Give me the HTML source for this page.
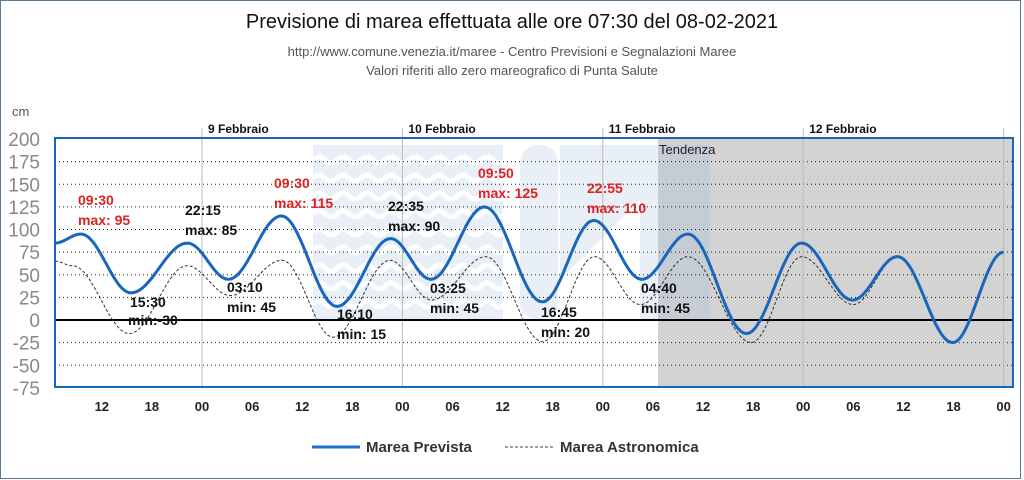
<!DOCTYPE html>
<html><head><meta charset="utf-8"><style>
body{margin:0;background:#fff;}
svg{display:block;font-family:"Liberation Sans","DejaVu Sans",sans-serif;}
</style></head><body>
<svg id="s" width="1024" height="480" xmlns="http://www.w3.org/2000/svg">
<rect x="0.5" y="0.5" width="1020" height="478" fill="#fff" stroke="#5a7896"/>
<text x="512" y="28" text-anchor="middle" font-size="20" fill="#111">Previsione di marea effettuata alle ore 07:30 del 08-02-2021</text>
<text x="512" y="56" text-anchor="middle" font-size="13" fill="#555">http://www.comune.venezia.it/maree - Centro Previsioni e Segnalazioni Maree</text>
<text x="512" y="75" text-anchor="middle" font-size="13" fill="#555">Valori riferiti allo zero mareografico di Punta Salute</text>
<text x="12" y="116" font-size="13" fill="#555">cm</text>
<!-- watermark -->
<g fill="#e8eff7">
<rect x="313" y="145" width="190" height="175"/>
<rect x="520" y="145" width="38" height="175" rx="18"/>
<polygon points="560,145 660,145 710,145 710,320 640,320 640,200 560,280"/>
</g>
<g id="waves" stroke="#fff" stroke-width="5" fill="none"></g>
<rect x="658" y="138" width="355" height="249" fill="#d3d3d3"/>
<rect x="658" y="145" width="52" height="175" fill="#c2cbd5" opacity="0.8"/>
<text x="659" y="154" font-size="13" fill="#222">Tendenza</text>
<g id="grid"></g>
<g id="curves"></g>
<rect x="55" y="138" width="958" height="249" fill="none" stroke="#1a66bb" stroke-width="2"/>
<g id="labels" font-size="14" font-weight="bold"></g>
<line x1="312" y1="447" x2="360" y2="447" stroke="#1a6fd0" stroke-width="3"/>
<text x="366" y="452" font-size="15" font-weight="bold" fill="#333">Marea Prevista</text>
<line x1="505" y1="447" x2="555" y2="447" stroke="#444" stroke-width="1" stroke-dasharray="3,2"/>
<text x="560" y="452" font-size="15" font-weight="bold" fill="#333">Marea Astronomica</text>
</svg>
<script>
const NS="http://www.w3.org/2000/svg";
function el(p,t,a,txt){const e=document.createElementNS(NS,t);for(const k in a)e.setAttribute(k,a[k]);if(txt!==undefined)e.textContent=txt;p.appendChild(e);return e;}
const X=h=>202+h*8.35, Y=v=>320-v*0.905;
const g=document.getElementById('grid');
const w=document.getElementById('waves');
for(let y=160;y<320;y+=18){let d="M313 "+y;for(let x=313;x<503;x+=24)d+=" q6 -6 12 0 t12 0";el(w,'path',{d:d});}
for(let v=-50;v<=175;v+=25){if(v==0)continue;el(g,'line',{x1:55,x2:1013,y1:Y(v),y2:Y(v),stroke:'#222','stroke-dasharray':'1,3','stroke-width':1});}
for(let v=-75;v<=200;v+=25){el(g,'text',{x:40,y:Y(v)+7,'text-anchor':'end','font-size':19,fill:'#888'},v);}
const days=[["9 Febbraio",0],["10 Febbraio",24],["11 Febbraio",48],["12 Febbraio",72],["",96]];
days.forEach(d=>{el(g,'line',{x1:X(d[1]),x2:X(d[1]),y1:128,y2:387,stroke:'#bbb'});if(d[0])el(g,'text',{x:X(d[1])+6,y:133,'font-size':12,'font-weight':'bold',fill:'#111'},d[0]);});
for(let h=-12;h<=96;h+=6){el(g,'text',{x:X(h),y:411,'text-anchor':'middle','font-size':13,'font-weight':'bold',fill:'#222'},String(((h%24)+24)%24).padStart(2,'0'));}
el(g,'line',{x1:55,x2:1013,y1:Y(0),y2:Y(0),stroke:'#000','stroke-width':2});
function path(pts){let d="";for(let i=0;i<pts.length-1;i++){const [h0,v0]=pts[i],[h1,v1]=pts[i+1];for(let k=0;k<=20;k++){const t=k/20,h=h0+(h1-h0)*t,v=v0+(v1-v0)*(1-Math.cos(Math.PI*t))/2;d+=(d?"L":"M")+X(h).toFixed(1)+" "+Y(v).toFixed(1);}}return d;}
const pred=[[-17.6,85],[-14.5,95],[-8.5,30],[-1.75,85],[3.17,45],[9.5,115],[16.17,15],[22.58,90],[27.42,45],[33.83,125],[40.75,20],[46.92,110],[52.67,45],[58.2,95],[65.2,-15],[71.8,85],[77.9,22],[83.3,70],[89.9,-25],[96,75]];
const ast=[[-17.6,65],[-15.5,60],[-8.7,-15],[-1.8,60],[3.4,27],[9.6,66],[15.7,-19],[22.5,66],[27.5,22],[34,70],[40.8,-24],[47,70],[52.5,17],[58.2,70],[65.8,-25],[71.8,70],[78,17],[83.3,70],[89.9,-25],[96,75]];
const c=document.getElementById('curves');
el(c,'path',{d:path(ast),fill:'none',stroke:'#333','stroke-width':1,'stroke-dasharray':'3,2'});
el(c,'path',{d:path(pred),fill:'none',stroke:'#1a66bb','stroke-width':3});
const L=[["09:30",78,205,1],["max: 95",78,225,1],["22:15",185,215,0],["max: 85",185,235,0],["15:30",130,307,0],["min:-30",128,325,0],["03:10",227,292,0],["min: 45",227,312,0],["09:30",274,188,1],["max: 115",274,208,1],["16:10",337,319,0],["min: 15",337,339,0],["22:35",388,211,0],["max: 90",388,231,0],["03:25",430,293,0],["min: 45",430,313,0],["09:50",478,178,1],["max: 125",478,198,1],["16:45",541,317,0],["min: 20",541,337,0],["22:55",587,193,1],["max: 110",587,213,1],["04:40",641,293,0],["min: 45",641,313,0]];
const lb=document.getElementById('labels');
L.forEach(l=>el(lb,'text',{x:l[1],y:l[2],fill:l[3]?'#e02020':'#111'},l[0]));
</script>
</body></html>
